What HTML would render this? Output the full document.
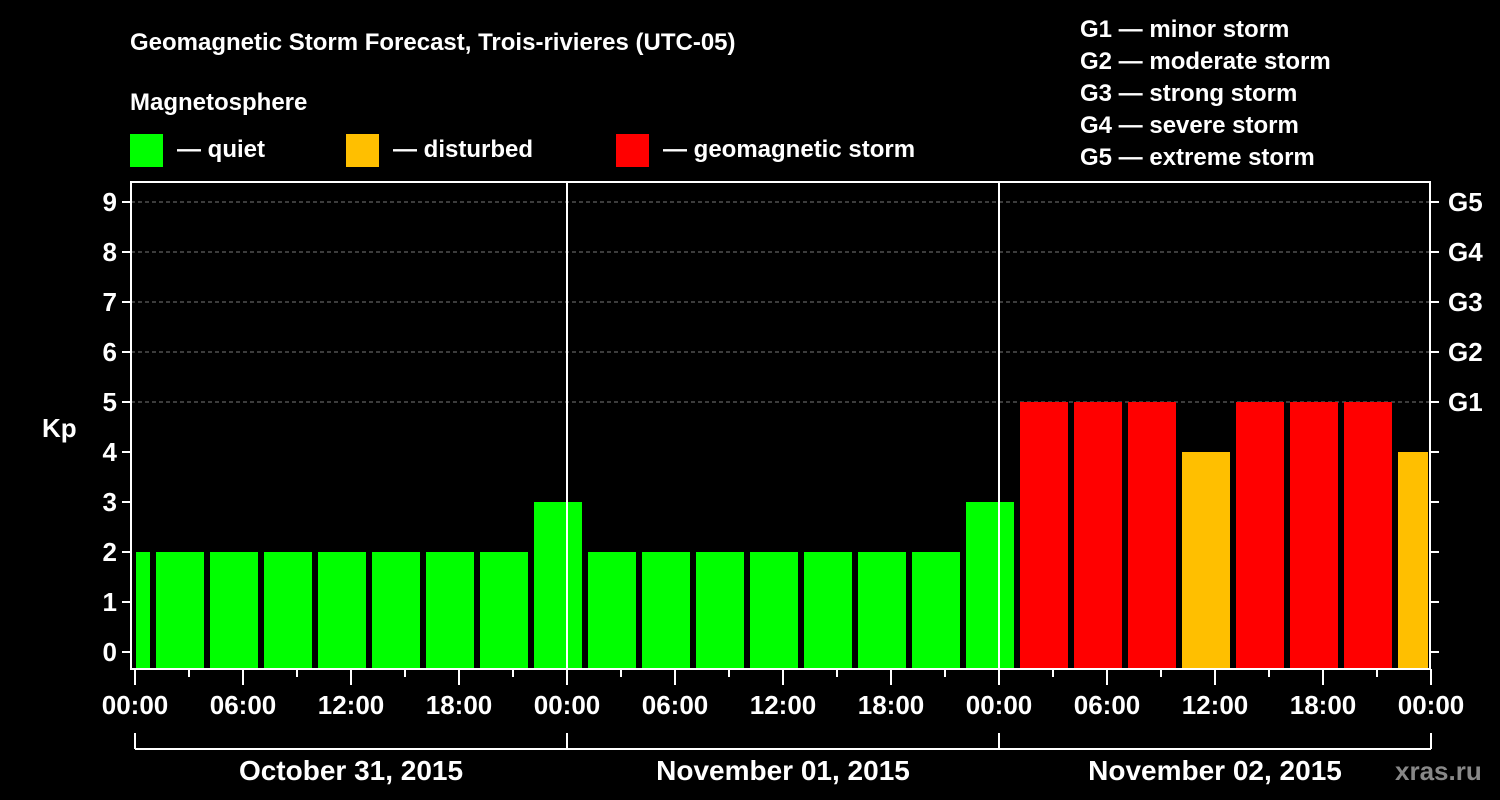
<!DOCTYPE html>
<html><head><meta charset="utf-8"><style>
html,body{margin:0;padding:0;background:#000;}
svg{display:block;font-family:"Liberation Sans",Arial,sans-serif;font-weight:bold;}
</style></head><body>
<svg id="c" width="1500" height="800" xmlns="http://www.w3.org/2000/svg">
<text x="130" y="50" fill="#fff" font-size="24">Geomagnetic Storm Forecast, Trois-rivieres (UTC-05)</text>
<text x="130" y="110" fill="#fff" font-size="24">Magnetosphere</text>
<rect x="130" y="134" width="33" height="33" fill="#00ff00"/>
<text x="177" y="157" fill="#fff" font-size="24">— quiet</text>
<rect x="346" y="134" width="33" height="33" fill="#ffbf00"/>
<text x="393" y="157" fill="#fff" font-size="24">— disturbed</text>
<rect x="616" y="134" width="33" height="33" fill="#ff0000"/>
<text x="663" y="157" fill="#fff" font-size="24">— geomagnetic storm</text>
<g fill="#fff" font-size="24">
<text x="1080" y="37">G1 — minor storm</text>
<text x="1080" y="69">G2 — moderate storm</text>
<text x="1080" y="101">G3 — strong storm</text>
<text x="1080" y="133">G4 — severe storm</text>
<text x="1080" y="165">G5 — extreme storm</text>
</g>
<text x="42" y="437" fill="#fff" font-size="26">Kp</text>
<text x="1395" y="780" fill="#888" font-size="26">xras.ru</text>
<g id="plot"></g>
</svg>
<script>
const kpValues=[2,2,2,2,2,2,2,2,3,2,2,2,2,2,2,2,3,5,5,5,4,5,5,5,4];
const yTicks=[0,1,2,3,4,5,6,7,8,9];
const gLabels=["G1","G2","G3","G4","G5"];
const xTickLabels=["00:00","06:00","12:00","18:00","00:00","06:00","12:00","18:00","00:00","06:00","12:00","18:00","00:00"];
const dateLabels=["October 31, 2015","November 01, 2015","November 02, 2015"];
const firstBlockStartHour=-2;
const NS="http://www.w3.org/2000/svg";
const g=document.getElementById('plot');
const L=131,R=1430,T=182,B=669,X0=135,PXH=18;
const xs=h=>X0+h*PXH, ys=v=>652-50*v;
function mk(t,a,p){const e=document.createElementNS(NS,t);for(const k in a)e.setAttribute(k,a[k]);(p||g).appendChild(e);return e;}
// grid
yTicks.forEach(v=>{if(v>=5){const e=mk('line',{x1:L,x2:R,y1:ys(v),y2:ys(v),stroke:'#777','stroke-dasharray':'4,3'});

}});
// bars
kpValues.forEach((v,i)=>{let a=xs(firstBlockStartHour+i*3)+3,b=xs(firstBlockStartHour+i*3+3)-3;a=Math.max(a,L+5);b=Math.min(b,R-2);
const col=v>=5?'#ff0000':(v>=4?'#ffbf00':'#00ff00');
const e=mk('rect',{x:a,y:ys(v),width:b-a,height:B-ys(v),fill:col});

});
// day separators
[1,2].forEach(d=>{const e=mk('line',{x1:xs(24*d),x2:xs(24*d),y1:T,y2:B,stroke:'#fff','stroke-width':2});

});
// frame
const fr=mk('rect',{x:L,y:T,width:R-L,height:B-T,fill:'none',stroke:'#fff','stroke-width':2});


// y ticks
yTicks.forEach(v=>{mk('line',{x1:L-9,x2:L,y1:ys(v),y2:ys(v),stroke:'#fff','stroke-width':2});
mk('line',{x1:R,x2:R+9,y1:ys(v),y2:ys(v),stroke:'#fff','stroke-width':2});
const t=mk('text',{x:L-14,y:ys(v)+9,fill:'#fff','font-size':26,'text-anchor':'end'});t.textContent=v;

});
gLabels.forEach((s,i)=>{const t=mk('text',{x:R+18,y:ys(5+i)+9,fill:'#fff','font-size':26});t.textContent=s;

});
// x ticks
for(let h=0;h<=72;h+=3){const maj=h%6===0;mk('line',{x1:xs(h),x2:xs(h),y1:B,y2:B+(maj?16:8),stroke:'#fff','stroke-width':2});}
xTickLabels.forEach((s,i)=>{const t=mk('text',{x:xs(i*6),y:714,fill:'#fff','font-size':26,'text-anchor':'middle'});t.textContent=s;

});
// date bracket
mk('line',{x1:xs(0),x2:xs(72),y1:749,y2:749,stroke:'#fff','stroke-width':2});
for(let d=0;d<=3;d++)mk('line',{x1:xs(24*d),x2:xs(24*d),y1:733,y2:749,stroke:'#fff','stroke-width':2});
dateLabels.forEach((s,i)=>{const t=mk('text',{x:xs(24*i+12),y:780,fill:'#fff','font-size':28,'text-anchor':'middle'});t.textContent=s;

});
</script>
</body></html>
